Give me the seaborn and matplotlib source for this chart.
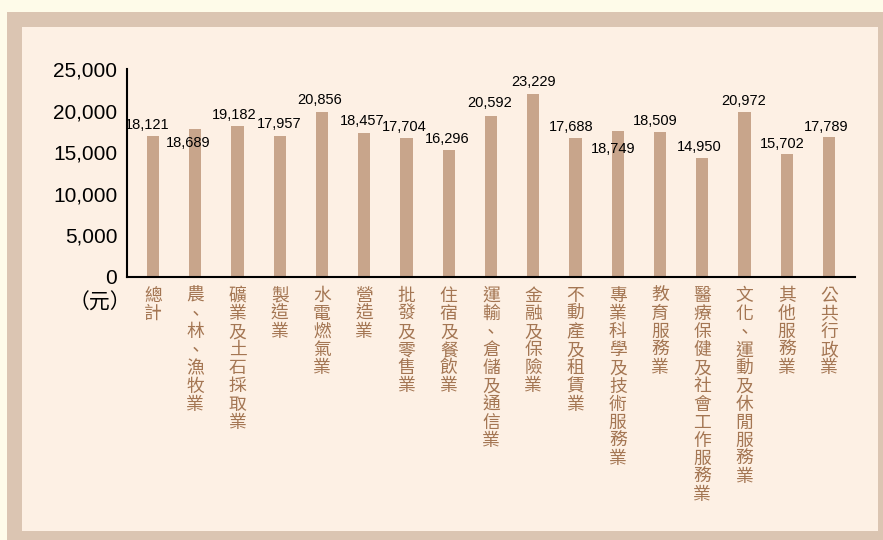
import matplotlib
matplotlib.use('Agg')
import matplotlib.pyplot as plt
import seaborn as sns
import pandas as pd
from matplotlib.patches import Rectangle

# industries (vertical CJK labels) and values
industries = ['總計', '農、林、漁牧業', '礦業及土石採取業', '製造業', '水電燃氣業', '營造業',
              '批發及零售業', '住宿及餐飲業', '運輸、倉儲及通信業', '金融及保險業', '不動產及租賃業',
              '專業科學及技術服務業', '教育服務業', '醫療保健及社會工作服務業', '文化、運動及休閒服務業',
              '其他服務業', '公共行政業']
# bar heights as drawn in the picture
bar_heights = [16970, 17800, 18200, 16970, 19850, 17300, 16700, 15300, 19400, 22000,
               16700, 17600, 17450, 14300, 19850, 14800, 16850]
# printed value labels
value_labels = [18121, 18689, 19182, 17957, 20856, 18457, 17704, 16296, 20592, 23229,
                17688, 18749, 18509, 14950, 20972, 15702, 17789]
yticks = [0, 5000, 10000, 15000, 20000, 25000]

# label offsets in pixels (dx, dy) relative to bar top
label_dx = [-6, -7, -3, -1, -2, -2, -2, -2, -1, 0, -4, -5, -5, -3, -1, -5, -3]
label_dy = [4, -21, 4, 5, 5, 5, 4, 4, 6, 5, 4, -25, 4, 4, 4, 3, 3]

sns.set_theme(style='white')
plt.rcParams['font.family'] = ['Liberation Sans', 'Noto Sans CJK TC', 'DejaVu Sans']

outer_bg = '#fefbe9'
frame_col = '#dbc5b2'
inner_bg = '#fdf0e4'
bar_col = '#c8a58b'
cat_col = '#a47653'

W, H = 883, 540
fig = plt.figure(figsize=(W / 100, H / 100), dpi=100, facecolor=outer_bg)

# frame and panel
fig.add_artist(Rectangle((7 / W, 0), (W - 7) / W, (H - 12) / H, transform=fig.transFigure,
                         facecolor=frame_col, edgecolor='none', zorder=-3))
fig.add_artist(Rectangle((22 / W, (H - 531) / H), (878 - 22) / W, (531 - 27) / H,
                         transform=fig.transFigure, facecolor=inner_bg, edgecolor='none', zorder=-2))

ax = fig.add_axes([127 / W, 1 - 277 / H, (855 - 127) / W, (277 - 69.3) / H])
ax.set_facecolor('none')

df = pd.DataFrame({'industry': industries, 'value': bar_heights})
sns.barplot(data=df, x='industry', y='value', color=bar_col, width=0.29,
            saturation=1, ax=ax, edgecolor='none')

ax.set_xlim(-0.615, len(industries) - 1 + 0.615)
ax.set_ylim(0, 25000)
ax.set_yticks(yticks)
ax.set_yticklabels([f'{v:,}' for v in yticks], fontsize=15, color='black')
ax.tick_params(axis='y', direction='in', length=7.2, width=1.2, color='black', pad=7)
ax.tick_params(axis='x', length=0, labelbottom=False)
ax.set_xlabel('')
ax.set_ylabel('')

for s in ['top', 'right']:
    ax.spines[s].set_visible(False)
for s in ['left', 'bottom']:
    ax.spines[s].set_color('black')
    ax.spines[s].set_linewidth(1.5)

# vertical category labels, one character per cell
pitch = 18.1
for i, name in enumerate(industries):
    for j, ch in enumerate(name):
        ax.annotate(ch, (i, 0), xytext=(0, -(19 + j * pitch)), textcoords='offset pixels',
                    ha='center', va='center', fontsize=12.8, color=cat_col,
                    family=['Noto Sans CJK TC'], annotation_clip=False)

for i, (h, lab) in enumerate(zip(bar_heights, value_labels)):
    ax.annotate(f'{lab:,}', (i, h), xytext=(label_dx[i], label_dy[i]), textcoords='offset pixels',
                ha='center', va='bottom', fontsize=10.5, color='black')

fig.text(100 / W, 1 - 303 / H, '（元）', fontsize=15, color='black', ha='center', va='center',
         family=['Noto Sans CJK TC'])

fig.savefig('out.png', dpi=100, facecolor=outer_bg)
